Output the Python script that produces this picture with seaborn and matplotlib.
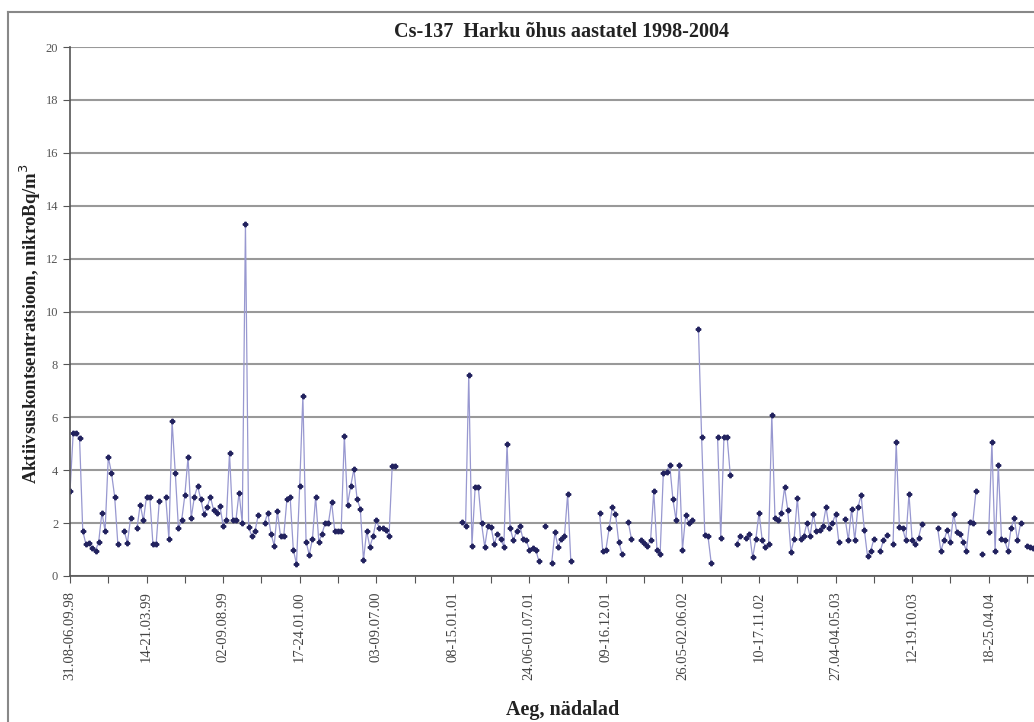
import numpy as np
import pandas as pd
import matplotlib
matplotlib.use("Agg")
import matplotlib.pyplot as plt
from matplotlib.lines import Line2D
import seaborn as sns

nan = np.nan

# weekly Cs-137 values, mikroBq/m3 (NaN = no measurement)
cs137 = [
    3.2, 5.4, 5.4, 5.2, 1.7, 1.2, 1.25, 1.05, 0.95, 1.3,
    2.4, 1.7, 4.5, 3.9, 3.0, 1.2, nan, 1.7, 1.25, 2.2,
    nan, 1.8, 2.7, 2.1, 3.0, 3.0, 1.2, 1.2, 2.85, nan,
    3.0, 1.4, 5.85, 3.9, 1.8, 2.1, 3.05, 4.5, 2.2, 3.0,
    3.4, 2.9, 2.35, 2.6, 3.0, 2.5, 2.4, 2.65, 1.9, 2.1,
    4.65, 2.1, 2.1, 3.15, 2.0, 13.3, 1.85, 1.5, 1.7, 2.3,
    nan, 2.0, 2.4, 1.6, 1.15, 2.45, 1.5, 1.5, 2.9, 3.0,
    1.0, 0.45, 3.4, 6.8, 1.3, 0.8, 1.4, 3.0, 1.3, 1.6,
    2.0, 2.0, 2.8, 1.7, 1.7, 1.7, 5.3, 2.7, 3.4, 4.05,
    2.9, 2.55, 0.6, 1.7, 1.1, 1.5, 2.1, 1.8, 1.8, 1.75,
    1.5, 4.15, 4.15, nan, nan, nan, nan, nan, nan, nan,
    nan, nan, nan, nan, nan, nan, nan, nan, nan, nan,
    nan, nan, nan, 2.05, 1.9, 7.6, 1.15, 3.35, 3.35, 2.0,
    1.1, 1.9, 1.85, 1.2, 1.6, 1.4, 1.1, 5.0, 1.8, 1.35,
    1.7, 1.9, 1.4, 1.35, 1.0, 1.05, 1.0, 0.55, nan, 1.9,
    nan, 0.5, 1.65, 1.1, 1.4, 1.5, 3.1, 0.55, nan, nan,
    nan, nan, nan, nan, nan, nan, 2.4, 0.95, 1.0, 1.8,
    2.6, 2.35, 1.3, 0.85, nan, 2.05, 1.4, nan, nan, 1.35,
    1.25, 1.15, 1.35, 3.2, 1.0, 0.85, 3.9, 3.95, 4.2, 2.9,
    2.1, 4.2, 1.0, 2.3, 2.0, 2.1, nan, 9.35, 5.25, 1.55,
    1.5, 0.5, nan, 5.25, 1.45, 5.25, 5.25, 3.8, nan, 1.2,
    1.5, nan, 1.45, 1.6, 0.7, 1.4, 2.4, 1.35, 1.1, 1.2,
    6.1, 2.2, 2.1, 2.4, 3.35, 2.5, 0.9, 1.4, 2.95, 1.4,
    1.5, 2.0, 1.5, 2.35, 1.7, 1.75, 1.9, 2.6, 1.8, 2.0,
    2.35, 1.3, nan, 2.15, 1.35, 2.55, 1.35, 2.6, 3.05, 1.75,
    0.75, 0.95, 1.4, nan, 0.95, 1.35, 1.55, nan, 1.2, 5.05,
    1.85, 1.8, 1.35, 3.1, 1.35, 1.2, 1.45, 1.95, nan, nan,
    nan, nan, 1.8, 0.95, 1.35, 1.75, 1.3, 2.35, 1.65, 1.6,
    1.3, 0.95, 2.05, 2.0, 3.2, nan, 0.85, nan, 1.65, 5.05,
    0.95, 4.2, 1.4, 1.35, 0.95, 1.8, 2.2, 1.35, 2.0, nan,
    1.15, 1.1, 1.05,
]

week_labels = [
    "31.08-06.09.98", "14-21.03.99", "02-09.08.99", "17-24.01.00",
    "03-09.07.00", "08-15.01.01", "24.06-01.07.01", "09-16.12.01",
    "26.05-02.06.02", "10-17.11.02", "27.04-04.05.03", "12-19.10.03",
    "18-25.04.04",
]
label_step = 24

df = pd.DataFrame({"nadal": np.arange(len(cs137)), "cs": cs137})
# separate line pieces at missing weeks
df["osa"] = df["cs"].isna().cumsum()
df = df.dropna()

W, H = 1034, 722
fig = plt.figure(figsize=(W / 100, H / 100), dpi=100)
ax = fig.add_axes([70 / W, (H - 576) / H, (W - 70) / W, 529 / H])

sns.lineplot(data=df, x="nadal", y="cs", units="osa", estimator=None,
             color="#9898d0", linewidth=0.9, ax=ax, legend=False)
ax.plot(df["nadal"], df["cs"], linestyle="none", marker="P",
        markersize=3.2, color="#22225e")

ax.set_xlim(0, (W - 70) / 3.19)
ax.set_ylim(0, 20)
ax.set_yticks(range(0, 21, 2))
ax.set_yticklabels([str(v) for v in range(0, 21, 2)],
                   family="Liberation Serif", fontsize=9, color="#555555")
xt = list(range(0, 301, 12))
ax.set_xticks(xt)
ax.set_xticklabels([week_labels[t // label_step] if t % label_step == 0 else ""
                    for t in xt],
                   rotation=90, family="Liberation Serif", fontsize=10.5,
                   color="#444444", va="top")
ax.tick_params(axis="both", direction="out", length=5, color="#555555")
ax.tick_params(axis="x", pad=6)

ax.grid(axis="y", color="#999999", linewidth=1.5)
ax.set_axisbelow(True)
for s in ["top", "right"]:
    ax.spines[s].set_visible(False)
for s in ["left", "bottom"]:
    ax.spines[s].set_color("#555555")
    ax.spines[s].set_linewidth(1.2)

ax.set_xlabel("")
ax.set_ylabel("")
fig.text(561 / W, (H - 32) / H, "Cs-137  Harku õhus aastatel 1998-2004",
         ha="center", va="center", family="Liberation Serif",
         fontweight="bold", fontsize=14.5, color="#222222")
fig.text(30 / W, (H - 324) / H, "Aktiivsuskontsentratsioon, mikroBq/m$^3$",
         rotation=90, ha="center", va="center", family="Liberation Serif",
         fontweight="bold", fontsize=13.5, color="#222222")
fig.text(563 / W, (H - 710) / H, "Aeg, nädalad", ha="center", va="center",
         family="Liberation Serif", fontweight="bold", fontsize=14.5,
         color="#222222")

# outer chart frame (cut at right and bottom edges)
fig.add_artist(Line2D([8 / W, 8 / W], [0, (H - 12) / H], color="#888888",
                      linewidth=1.5, transform=fig.transFigure))
fig.add_artist(Line2D([8 / W, 1], [(H - 12) / H, (H - 12) / H],
                      color="#888888", linewidth=1.5,
                      transform=fig.transFigure))

fig.savefig("out.png", dpi=100)
